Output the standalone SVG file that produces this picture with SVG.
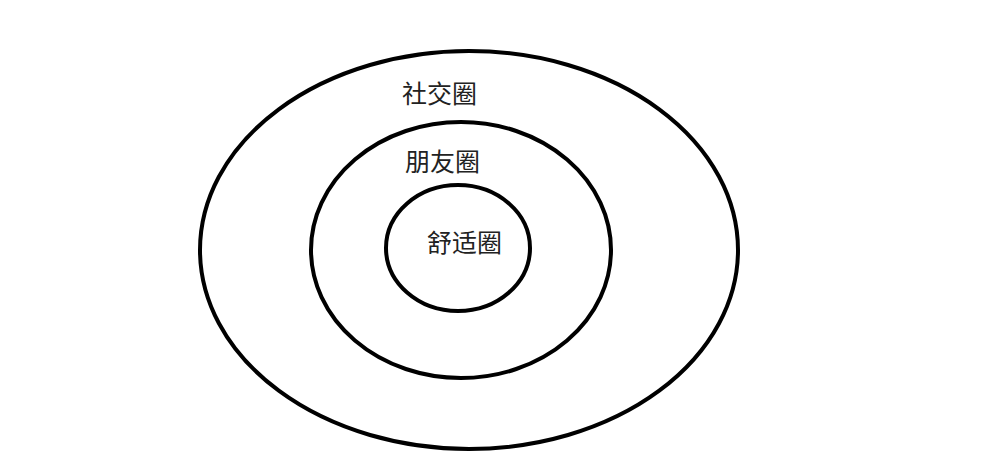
<svg xmlns="http://www.w3.org/2000/svg" width="1000" height="469" viewBox="0 0 1000 469">
<style>
.ring{fill:none;stroke:#000;stroke-width:4}
.lbl{font-family:"Noto Sans CJK SC","Noto Sans",sans-serif;font-size:25px;fill:#222;dominant-baseline:central}
</style>
<rect width="1000" height="469" fill="#fff"/>
<g id="social">
<ellipse class="ring" cx="469" cy="250" rx="269" ry="199"/>
<text class="lbl" x="402" y="92">社交圈</text>
</g>
<g id="friends">
<ellipse class="ring" cx="461" cy="250" rx="150" ry="128"/>
<text class="lbl" x="405" y="160">朋友圈</text>
</g>
<g id="comfort">
<ellipse class="ring" cx="458" cy="248" rx="72" ry="63"/>
<text class="lbl" x="427" y="241">舒适圈</text>
</g>
<g id="connectors"></g>
</svg>
